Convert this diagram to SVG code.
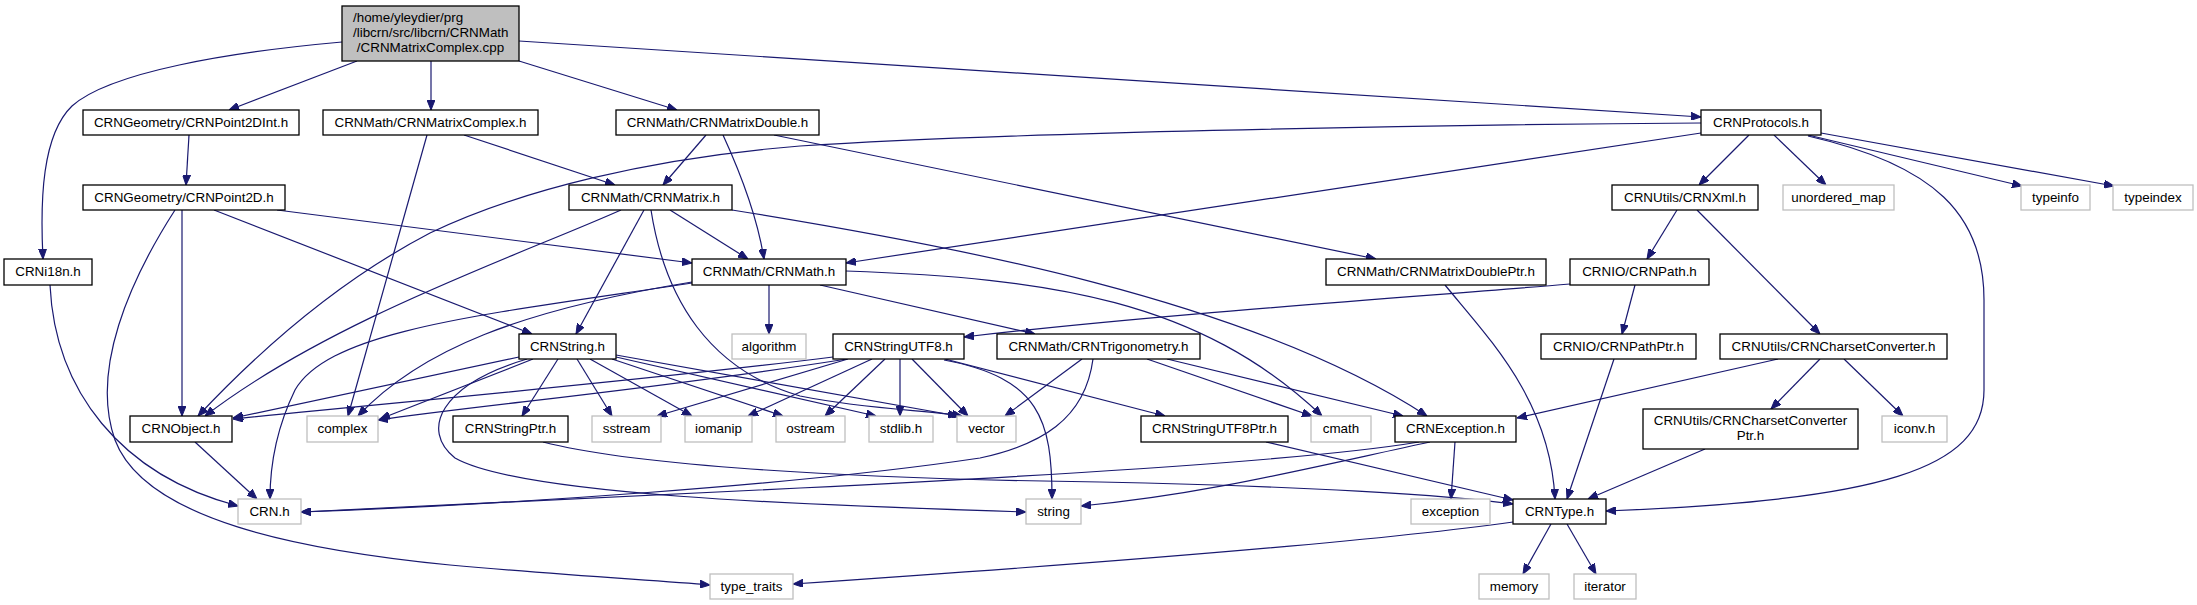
<svg xmlns="http://www.w3.org/2000/svg" width="2197" height="605" viewBox="0 0 2197 605">
<style>
.n rect{fill:#fff;stroke:#000;stroke-width:1.3}
.g rect{fill:#fff;stroke:#bfbfbf;stroke-width:1.3}
.r rect{fill:#bfbfbf;stroke:#000;stroke-width:1.3}
text{font-family:"Liberation Sans",Arial,sans-serif;font-size:13.4px;fill:#000;text-anchor:middle}
#edges path{fill:none;stroke:#191970;stroke-width:1.2;marker-end:url(#a)}
</style>
<defs>
<marker id="a" viewBox="0 0 10 8" refX="10" refY="4" markerWidth="10" markerHeight="8" orient="auto" markerUnits="userSpaceOnUse"><path d="M0,0 L10,4 L0,8 z" fill="#191970" stroke="#191970" stroke-width="1"/></marker>
</defs>
<rect width="2197" height="605" fill="#fff"/>
<g id="edges">
<path d="M342,42 C230,52 110,72 72,106 C42,135 40,200 43,259"/>
<path d="M357,61 L229,110"/>
<path d="M431,61 L431,110"/>
<path d="M519,61 L677,110"/>
<path d="M519,41 L1701,117"/>
<path d="M189,135 L186,185"/>
<path d="M464,135 L615,185"/>
<path d="M427,135 L348,416"/>
<path d="M706,135 L663,185"/>
<path d="M723,135 C740,172 757,215 764,259"/>
<path d="M774,135 L1376,259"/>
<path d="M670,210 L748,259"/>
<path d="M621,210 C520,255 330,320 205,416"/>
<path d="M644,210 L576,334"/>
<path d="M651,210 C665,300 710,370 800,396 C870,410 930,410 962,416"/>
<path d="M732,210 C950,245 1250,300 1427,416"/>
<path d="M1701,123 C1400,125 1000,133 800,146 C650,158 520,190 430,233 C340,280 260,350 198,416"/>
<path d="M1701,133 L846,263"/>
<path d="M1749,135 L1699,185"/>
<path d="M1774,135 L1826,185"/>
<path d="M1808,135 L2022,186"/>
<path d="M1821,133 L2114,186"/>
<path d="M1808,136 C1935,165 1984,215 1984,300 L1984,390 C1984,470 1880,500 1606,511"/>
<path d="M182,210 L182,416"/>
<path d="M214,210 L532,334"/>
<path d="M277,210 L692,263"/>
<path d="M175,210 C130,280 90,370 115,440 C145,520 300,550 450,565 C560,575 650,580 710,585"/>
<path d="M1677,210 L1647,259"/>
<path d="M1697,210 L1820,334"/>
<path d="M769,285 L769,334"/>
<path d="M820,285 L1035,334"/>
<path d="M846,271 C1050,278 1200,300 1322,416"/>
<path d="M692,282 C520,310 420,350 358,416"/>
<path d="M692,283 C480,315 330,330 295,390 C278,425 270,460 270,499"/>
<path d="M1445,285 C1490,340 1550,400 1555,499"/>
<path d="M1570,284 C1400,298 1150,315 964,337"/>
<path d="M1635,285 L1622,334"/>
<path d="M519,357 L233,418"/>
<path d="M533,359 L380,419"/>
<path d="M558,359 L522,416"/>
<path d="M577,359 L612,416"/>
<path d="M590,359 L692,416"/>
<path d="M612,359 L783,416"/>
<path d="M616,357 L876,416"/>
<path d="M616,355 L958,416"/>
<path d="M527,359 C440,385 420,430 455,458 C520,495 800,505 1026,512"/>
<path d="M833,357 C650,380 420,400 233,419"/>
<path d="M847,359 C650,390 480,405 378,420"/>
<path d="M848,359 L657,416"/>
<path d="M872,359 L748,416"/>
<path d="M885,359 L825,416"/>
<path d="M900,359 L900,416"/>
<path d="M912,359 L968,416"/>
<path d="M945,359 L1165,416"/>
<path d="M944,360 C1040,378 1052,420 1052,499"/>
<path d="M1082,359 L1005,416"/>
<path d="M1147,359 L1312,416"/>
<path d="M1167,359 L1403,416"/>
<path d="M1093,359 C1085,420 1040,445 980,458 C800,485 500,505 301,512"/>
<path d="M1614,359 L1567,499"/>
<path d="M1778,359 L1517,418"/>
<path d="M1820,359 L1771,409"/>
<path d="M1844,359 L1903,416"/>
<path d="M195,442 L257,499"/>
<path d="M50,285 C55,390 120,475 238,506"/>
<path d="M543,442 C620,462 800,478 1100,482 C1300,486 1450,495 1513,504"/>
<path d="M1266,442 L1513,500"/>
<path d="M1455,442 L1451,499"/>
<path d="M1430,442 C1300,470 1200,495 1081,506"/>
<path d="M1419,442 C1300,462 1000,478 800,488 C600,498 400,508 301,512"/>
<path d="M1705,449 L1588,499"/>
<path d="M1551,524 L1523,574"/>
<path d="M1567,524 L1596,574"/>
<path d="M1513,522 C1350,545 1000,570 793,584"/>
</g>
<g id="root" class="r"><rect x="342" y="6" width="177" height="55"/><text x="353" y="21.5" style="text-anchor:start">/home/yleydier/prg</text><text x="353" y="36.5" style="text-anchor:start">/libcrn/src/libcrn/CRNMath</text><text x="430.5" y="51.5">/CRNMatrixComplex.cpp</text></g>
<g id="n_i18n" class="n"><rect x="4" y="259" width="88" height="26"/><text x="48" y="276">CRNi18n.h</text></g>
<g id="n_p2dint" class="n"><rect x="83" y="110" width="216" height="25"/><text x="191" y="127">CRNGeometry/CRNPoint2DInt.h</text></g>
<g id="n_mcomplex" class="n"><rect x="323" y="110" width="215" height="25"/><text x="430.5" y="127">CRNMath/CRNMatrixComplex.h</text></g>
<g id="n_mdouble" class="n"><rect x="616" y="110" width="203" height="25"/><text x="717.5" y="127">CRNMath/CRNMatrixDouble.h</text></g>
<g id="n_protocols" class="n"><rect x="1701" y="110" width="120" height="25"/><text x="1761" y="127">CRNProtocols.h</text></g>
<g id="n_p2d" class="n"><rect x="83" y="185" width="202" height="25"/><text x="184" y="202">CRNGeometry/CRNPoint2D.h</text></g>
<g id="n_matrix" class="n"><rect x="569" y="185" width="163" height="25"/><text x="650.5" y="202">CRNMath/CRNMatrix.h</text></g>
<g id="n_xml" class="n"><rect x="1612" y="185" width="146" height="25"/><text x="1685" y="202">CRNUtils/CRNXml.h</text></g>
<g id="n_umap" class="g"><rect x="1783" y="185" width="111" height="25"/><text x="1838.5" y="202">unordered_map</text></g>
<g id="n_typeinfo" class="g"><rect x="2021" y="185" width="69" height="25"/><text x="2055.5" y="202">typeinfo</text></g>
<g id="n_typeindex" class="g"><rect x="2113" y="185" width="80" height="25"/><text x="2153" y="202">typeindex</text></g>
<g id="n_math" class="n"><rect x="692" y="259" width="154" height="26"/><text x="769" y="276">CRNMath/CRNMath.h</text></g>
<g id="n_mdptr" class="n"><rect x="1326" y="259" width="220" height="26"/><text x="1436" y="276">CRNMath/CRNMatrixDoublePtr.h</text></g>
<g id="n_path" class="n"><rect x="1570" y="259" width="139" height="26"/><text x="1639.5" y="276">CRNIO/CRNPath.h</text></g>
<g id="n_string" class="n"><rect x="519" y="334" width="97" height="25"/><text x="567.5" y="351">CRNString.h</text></g>
<g id="n_algorithm" class="g"><rect x="732" y="334" width="74" height="25"/><text x="769" y="351">algorithm</text></g>
<g id="n_utf8" class="n"><rect x="833" y="334" width="131" height="25"/><text x="898.5" y="351">CRNStringUTF8.h</text></g>
<g id="n_trig" class="n"><rect x="997" y="334" width="203" height="25"/><text x="1098.5" y="351">CRNMath/CRNTrigonometry.h</text></g>
<g id="n_pathptr" class="n"><rect x="1541" y="334" width="155" height="25"/><text x="1618.5" y="351">CRNIO/CRNPathPtr.h</text></g>
<g id="n_charset" class="n"><rect x="1720" y="334" width="227" height="25"/><text x="1833.5" y="351">CRNUtils/CRNCharsetConverter.h</text></g>
<g id="n_object" class="n"><rect x="130" y="416" width="102" height="26"/><text x="181" y="433">CRNObject.h</text></g>
<g id="n_complex" class="g"><rect x="307" y="416" width="71" height="26"/><text x="342.5" y="433">complex</text></g>
<g id="n_stringptr" class="n"><rect x="453" y="416" width="115" height="26"/><text x="510.5" y="433">CRNStringPtr.h</text></g>
<g id="n_sstream" class="g"><rect x="592" y="416" width="69" height="26"/><text x="626.5" y="433">sstream</text></g>
<g id="n_iomanip" class="g"><rect x="685" y="416" width="67" height="26"/><text x="718.5" y="433">iomanip</text></g>
<g id="n_ostream" class="g"><rect x="776" y="416" width="69" height="26"/><text x="810.5" y="433">ostream</text></g>
<g id="n_stdlib" class="g"><rect x="869" y="416" width="64" height="26"/><text x="901" y="433">stdlib.h</text></g>
<g id="n_vector" class="g"><rect x="957" y="416" width="59" height="26"/><text x="986.5" y="433">vector</text></g>
<g id="n_utf8ptr" class="n"><rect x="1141" y="416" width="147" height="26"/><text x="1214.5" y="433">CRNStringUTF8Ptr.h</text></g>
<g id="n_cmath" class="g"><rect x="1311" y="416" width="60" height="26"/><text x="1341" y="433">cmath</text></g>
<g id="n_exception_h" class="n"><rect x="1395" y="416" width="121" height="26"/><text x="1455.5" y="433">CRNException.h</text></g>
<g id="n_charsetptr" class="n"><rect x="1643" y="409" width="215" height="40"/><text x="1750.5" y="425">CRNUtils/CRNCharsetConverter</text><text x="1750.5" y="440">Ptr.h</text></g>
<g id="n_iconv" class="g"><rect x="1882" y="416" width="65" height="26"/><text x="1914.5" y="433">iconv.h</text></g>
<g id="n_crn" class="g"><rect x="238" y="499" width="63" height="25"/><text x="269.5" y="516">CRN.h</text></g>
<g id="n_string_std" class="g"><rect x="1026" y="499" width="55" height="25"/><text x="1053.5" y="516">string</text></g>
<g id="n_exception" class="g"><rect x="1411" y="499" width="79" height="25"/><text x="1450.5" y="516">exception</text></g>
<g id="n_type" class="n"><rect x="1513" y="499" width="93" height="25"/><text x="1559.5" y="516">CRNType.h</text></g>
<g id="n_typetraits" class="g"><rect x="710" y="574" width="83" height="25"/><text x="751.5" y="591">type_traits</text></g>
<g id="n_memory" class="g"><rect x="1479" y="574" width="70" height="25"/><text x="1514" y="591">memory</text></g>
<g id="n_iterator" class="g"><rect x="1574" y="574" width="62" height="25"/><text x="1605" y="591">iterator</text></g>
</svg>
